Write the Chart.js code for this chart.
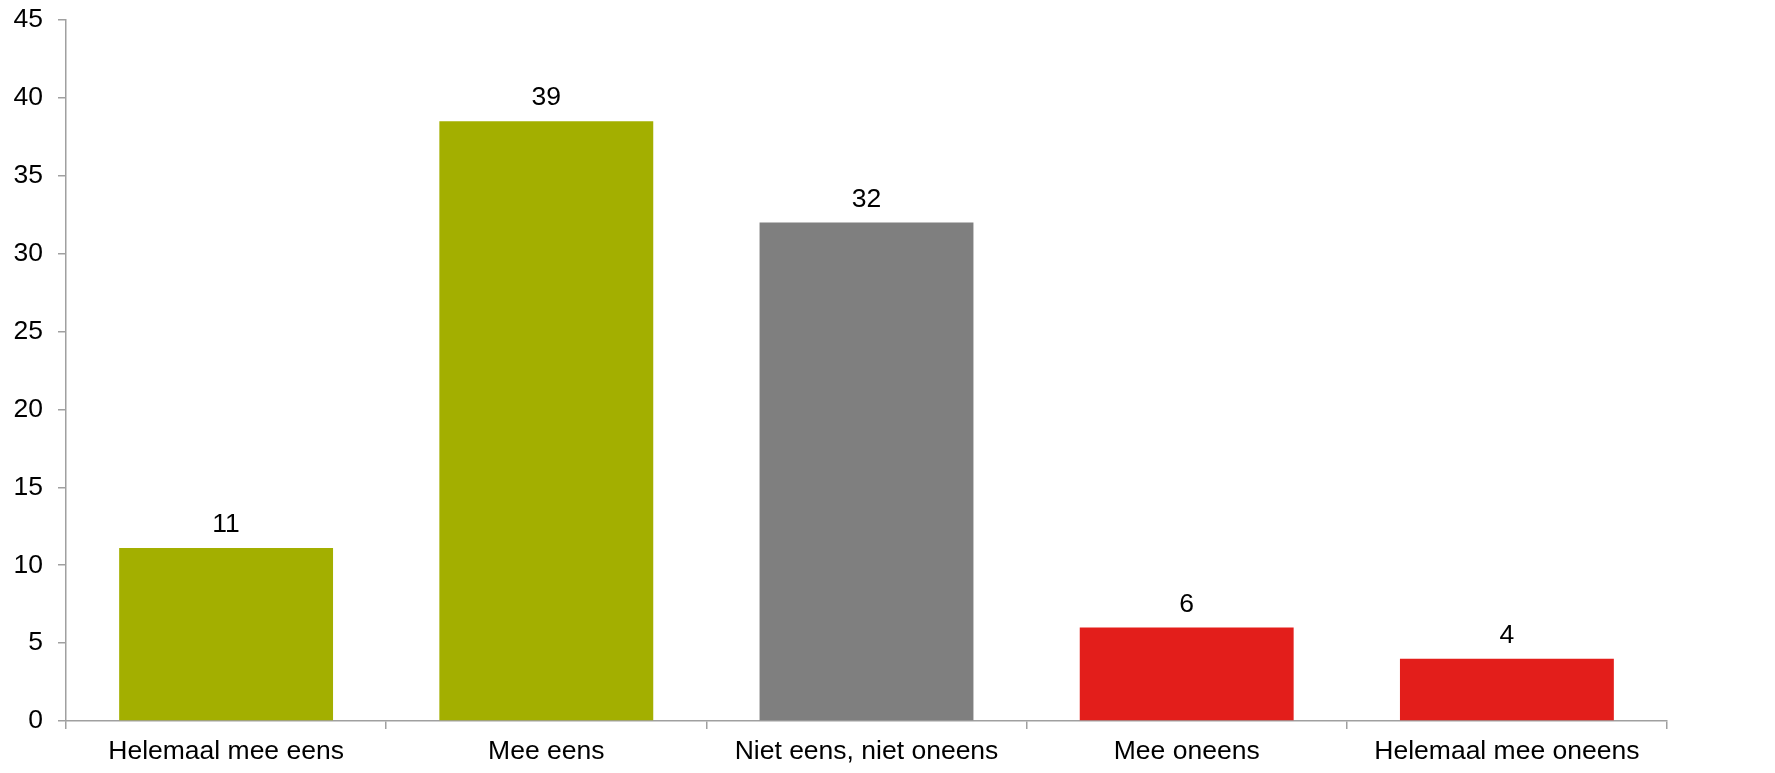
<!DOCTYPE html>
<html lang="nl">
  <head>
    <meta charset="UTF-8" />
    <title>Stellingen</title>
    <script src="https://cdn.jsdelivr.net/npm/chart.js"></script>
    <style>
      html, body { margin: 0; padding: 0; background: #fff; }
    </style>
  </head>
  <body>
    <canvas id="barChart" width="1775" height="773"></canvas>

    <script>
      // antwoordcategorieën en percentages
      const categories = [
        "Helemaal mee eens",
        "Mee eens",
        "Niet eens, niet oneens",
        "Mee oneens",
        "Helemaal mee oneens",
      ];
      const percentages = [11.1, 38.5, 32.0, 6.0, 4.0];
      const barColors = ["#A3AF00", "#A3AF00", "#7F7F7F", "#E31E1B", "#E31E1B"];
      const yTicks = [0, 5, 10, 15, 20, 25, 30, 35, 40, 45];

      const fontFamily = "'Liberation Sans', Arial, sans-serif";
      const axisColor = "#A0A0A0";

      // waarde boven elke staaf schrijven
      const valueLabels = {
        id: "valueLabels",
        afterDatasetsDraw(chart) {
          const ctx = chart.ctx;
          const meta = chart.getDatasetMeta(0);
          ctx.save();
          ctx.font = "26.5px " + fontFamily;
          ctx.fillStyle = "#000";
          ctx.textAlign = "center";
          ctx.textBaseline = "bottom";
          meta.data.forEach((bar, i) => {
            const v = chart.data.datasets[0].data[i];
            ctx.fillText(Math.round(v), bar.x, bar.y - 10);
          });
          ctx.restore();
        },
      };

      const ctx = document.getElementById("barChart").getContext("2d");
      new Chart(ctx, {
        type: "bar",
        data: {
          labels: categories,
          datasets: [
            {
              data: percentages,
              backgroundColor: barColors,
              borderWidth: 0,
              categoryPercentage: 1,
              barPercentage: 0.668,
            },
          ],
        },
        options: {
          responsive: false,
          animation: false,
          devicePixelRatio: 1,
          layout: { padding: { top: 20, right: 108, left: 0, bottom: 0 } },
          plugins: {
            legend: { display: false },
            tooltip: { enabled: false },
          },
          scales: {
            x: {
              offset: true,
              grid: {
                offset: true,
                drawOnChartArea: false,
                drawTicks: true,
                tickLength: 8,
                color: axisColor,
                lineWidth: 1.5,
              },
              border: { color: axisColor, width: 1.5 },
              ticks: {
                color: "#000",
                padding: 7,
                maxRotation: 0,
                font: { family: fontFamily, size: 26.5 },
              },
              afterFit(scale) {
                scale.height = 52;
                scale.paddingLeft = 0;
                scale.paddingRight = 0;
              },
            },
            y: {
              min: 0,
              max: 45,
              afterBuildTicks(scale) {
                scale.ticks = yTicks.map((v) => ({ value: v }));
              },
              grid: {
                drawOnChartArea: false,
                drawTicks: true,
                tickLength: 8,
                color: axisColor,
                lineWidth: 1.5,
              },
              border: { color: axisColor, width: 1.5 },
              ticks: {
                color: "#000",
                padding: 15,
                font: { family: fontFamily, size: 26.5 },
              },
              afterFit(scale) {
                scale.width = 66;
                scale.paddingTop = 0;
                scale.paddingBottom = 0;
              },
            },
          },
        },
        plugins: [valueLabels],
      });
    </script>
  </body>
</html>
